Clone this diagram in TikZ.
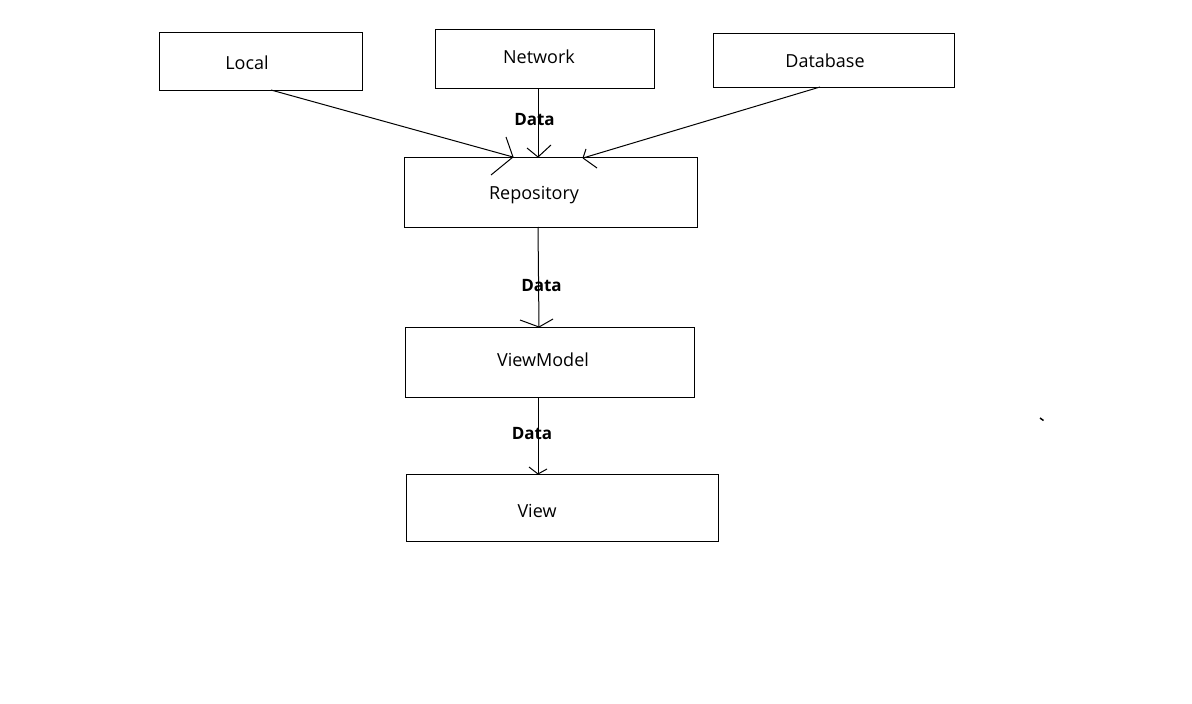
\documentclass[tikz,border=0pt]{standalone}
\usepackage{fontspec}
\setmainfont{Open Sans}
\begin{document}
\begin{tikzpicture}[x=1pt,y=-1pt,
  box/.style={draw=black, line width=1pt, inner sep=0pt, fill=none},
  lbl/.style={anchor=base, inner sep=0pt, font=\fontsize{18}{20}\selectfont},
  datalbl/.style={anchor=base, inner sep=0pt, font=\fontsize{17}{19}\selectfont\bfseries},
  conn/.style={draw=black, line width=1pt}]
\fill[white] (0,0) rectangle (1192,704);
\useasboundingbox (0,0) rectangle (1192,704);
% boxes
\node[box, minimum width=203, minimum height=58] (local) at (260.5,61) {};
\node[box, minimum width=219, minimum height=59] (network) at (544.5,58.5) {};
\node[box, minimum width=241, minimum height=54] (database) at (833.5,60) {};
\node[box, minimum width=293, minimum height=70] (repo) at (550.5,192) {};
\node[box, minimum width=289, minimum height=70] (vm) at (549.5,362) {};
\node[box, minimum width=312, minimum height=67] (view) at (562,507.5) {};
% labels
\node[lbl] (tlocal) at (247,69.4) {Local};
\node[lbl] (tnetwork) at (539,63.4) {Network};
\node[lbl] (tdatabase) at (825,67.4) {Database};
\node[lbl] (trepo) at (534,199.4) {Repository};
\node[lbl] (tvm) at (543,366.4) {ViewModel};
\node[lbl] (tview) at (537,517.4) {View};
% connector ends
\coordinate (sL) at (271,90);
\coordinate (tL) at (513,157);
\coordinate (sN) at (538,88);
\coordinate (tN) at (538,157);
\coordinate (sD) at (820,87);
\coordinate (tD) at (583,158);
\coordinate (sR) at (538,227);
\coordinate (tR) at (539,327);
\coordinate (sV) at (538,397);
\coordinate (tV) at (538,474);
% connectors
\draw[conn] (sL) -- (tL);
\draw[conn] (tL) -- ++(-7,-20);
\draw[conn] (tL) -- ++(-22,18);
\draw[conn] (sN) -- (tN);
\draw[conn] (tN) -- ++(-11,-9);
\draw[conn] (tN) -- ++(13,-12);
\draw[conn] (sD) -- (tD);
\draw[conn] (tD) -- ++(3,-9);
\draw[conn] (tD) -- ++(14,10);
\draw[conn] (sR) -- (tR);
\draw[conn] (tR) -- ++(-19,-7);
\draw[conn] (tR) -- ++(14,-8);
\draw[conn] (sV) -- (tV);
\draw[conn] (tV) -- ++(-9,-7);
\draw[conn] (tV) -- ++(9,-5);
% data labels
\node[datalbl] (d1) at (534.5,125.5) {Data};
\node[datalbl] (d2) at (541.5,291.5) {Data};
\node[datalbl] (d3) at (532,439) {Data};
% stray mark
\coordinate (m1) at (1040,418);
\coordinate (m2) at (1043.5,420.5);
\draw[conn, line width=1.5pt] (m1) -- (m2);
\end{tikzpicture}
\end{document}
